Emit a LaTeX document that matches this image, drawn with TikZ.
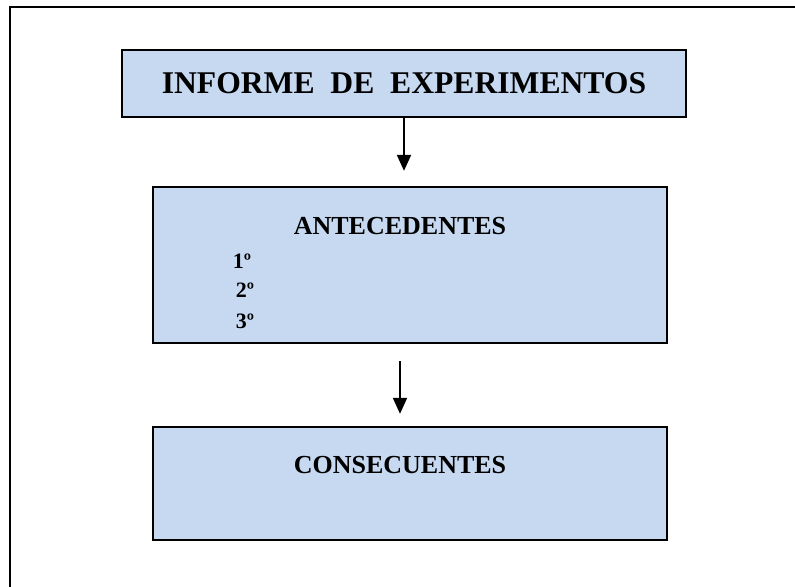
\documentclass[tikz,border=0pt]{standalone}
\usepackage{fontspec}
\setmainfont{Liberation Serif}
\usetikzlibrary{arrows.meta}
\definecolor{azulcaja}{RGB}{198,217,241}

\begin{document}
\begin{tikzpicture}[x=0.02cm, y=-0.02cm]
	\tikzset{caja/.style={rectangle, draw=black, line width=1.4pt, fill=azulcaja, inner sep=0pt},
	titulo/.style={rectangle, text centered, inner sep=0pt, font=\bfseries\fontsize{14.8}{17}\selectfont},
	orden/.style={rectangle, inner sep=0pt, font=\bfseries\fontsize{12.5}{14}\selectfont},
	flecha/.style={-{Triangle[width=8pt, length=9pt]}, line width=0.8pt}};
	\useasboundingbox (0,0) rectangle (795,587);
	\draw[line width=1.7pt] (795,7) -| (10,587);

	\node[caja, minimum width=11.28cm, minimum height=1.34cm, font=\bfseries\fontsize{18}{21}\selectfont] (info) at (404,83.5) {INFORME\ \ DE\ \ EXPERIMENTOS};
	\node[caja, minimum width=10.28cm, minimum height=3.12cm] (antec) at (410,265) {};
	\node[caja, minimum width=10.28cm, minimum height=2.26cm] (conse) at (410,483.5) {};

	\node[titulo] (tantec) at (400,226) {ANTECEDENTES};
	\node[titulo] (tconse) at (400,465) {CONSECUENTES};
	\foreach \n/\x/\y in {1/242/261, 2/245/290, 3/245/321} {
		\node[orden] (ord\n) at (\x,\y) {{\n}º};
	}

	\draw[flecha, shorten >=0.3cm] (info.south) -- (info.south |- antec.north);
	\draw[flecha, shorten <=0.34cm, shorten >=0.24cm] ([xshift=-0.2cm]antec.south) -- ([xshift=-0.2cm]conse.north);
\end{tikzpicture}
\end{document}
